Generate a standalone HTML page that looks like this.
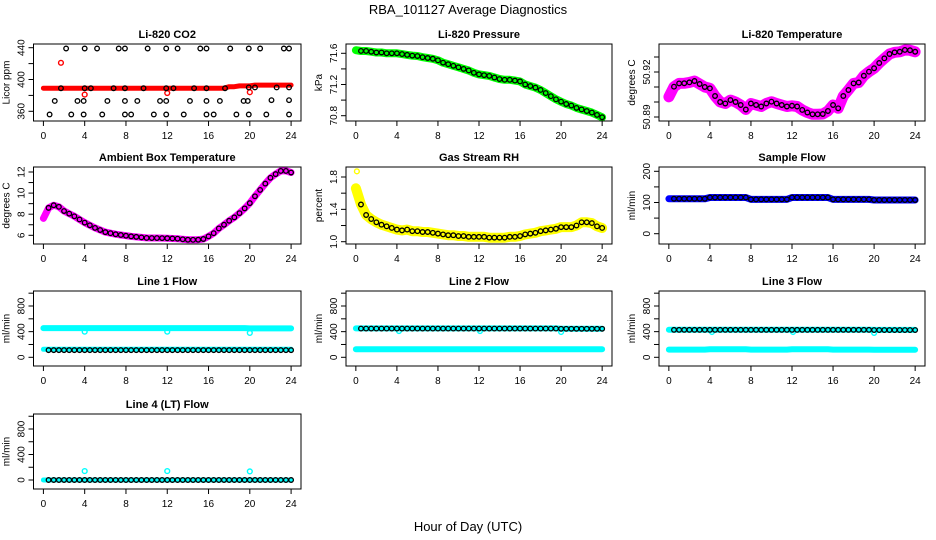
<!DOCTYPE html>
<html><head><meta charset="utf-8">
<style>
html,body{margin:0;padding:0;background:#fff;}
svg{display:block;font-family:"Liberation Sans",Arial,sans-serif;}
</style></head>
<body>
<svg id="fig" width="936" height="540" viewBox="0 0 936 540" xmlns="http://www.w3.org/2000/svg">
<rect x="0" y="0" width="936" height="540" fill="#fff"/>
<text x="468" y="14" text-anchor="middle" font-size="13">RBA_101127  Average Diagnostics</text>
<text x="468" y="531" text-anchor="middle" font-size="13">Hour of Day (UTC)</text>
</svg>
<script>
const hours=[0,0.5,1,1.5,2,2.5,3,3.5,4,4.5,5,5.5,6,6.5,7,7.5,8,8.5,9,9.5,10,10.5,11,11.5,12,12.5,13,13.5,14,14.5,15,15.5,16,16.5,17,17.5,18,18.5,19,19.5,20,20.5,21,21.5,22,22.5,23,23.5,24];
const xTicks=[0,4,8,12,16,20,24];

const co2Red=[389,389,389,389,389,389,389,389,389,389,389,389,389,389,389,389,389,389,389,389,389,389,389,389,389,389,389,389,389,389,389,389,389,389,389,389,391,391,392,392,392,393,393,393,393,393,393,393,393];
const co2RedOutX=[1.7,4,12,20];
const co2RedOutY=[421,381,383,384];
const co2BlackX=[2.2,4,5.2,7.3,7.9,10.1,11.9,13,15.2,15.8,18.1,19.9,21,23.3,23.8, 1.7,4,4.6,6.8,7.9,9.7,11.9,12.6,14.6,15.8,17.6,19.9,20.5,22.6,23.8, 1.1,3.3,3.9,6.2,7.9,9.1,11.3,11.9,14.2,15.8,17.1,19.4,19.8,22.1,23.8, 0.6,2.7,3.9,5.7,7.9,8.5,10.7,11.9,13.6,15.8,16.5,18.7,19.9,21.6,23.8];
const co2BlackY=[439,439,439,439,439,439,439,439,439,439,439,439,439,439,439, 389,389,389,389,389,389,389,389,389,389,389,390,390,390,390, 373,373,373,373,373,373,373,373,373,373,373,373,373,374,374, 356,356,356,356,356,356,356,356,356,356,356,356,356,356,356];
const co2Ticks=[360,380,400,420,440];
const co2Labels=[360,400,440];

const pressure=[71.64,71.63,71.63,71.62,71.61,71.61,71.60,71.60,71.60,71.59,71.58,71.57,71.565,71.55,71.54,71.53,71.51,71.48,71.46,71.44,71.42,71.40,71.38,71.35,71.33,71.32,71.31,71.29,71.27,71.26,71.26,71.25,71.24,71.20,71.18,71.16,71.13,71.09,71.05,71.01,70.98,70.95,70.93,70.90,70.88,70.86,70.84,70.81,70.78];
const presTicks=[70.8,71.0,71.2,71.4,71.6];
const presLabels=[70.8,71.2,71.6];

const licorTemp=[50.9035,50.9102,50.9124,50.9125,50.9131,50.9140,50.9120,50.9100,50.9091,50.9040,50.9000,50.8990,50.9013,50.9000,50.8980,50.8950,50.8990,50.8980,50.8970,50.8990,50.9002,50.8990,50.8980,50.8970,50.8975,50.8970,50.8947,50.8930,50.8918,50.8918,50.8920,50.8940,50.8980,50.8958,50.9040,50.9080,50.9124,50.9130,50.9175,50.9202,50.9225,50.9260,50.9291,50.9320,50.9331,50.9335,50.9347,50.9345,50.9335];
const tempTicks=[50.89,50.90,50.91,50.92,50.93];
const tempLabels=["50.89","50.92"];

const ambient=[7.6,8.6,8.85,8.7,8.3,8.05,7.8,7.5,7.2,6.95,6.7,6.5,6.3,6.2,6.1,6.03,5.96,5.9,5.85,5.8,5.75,5.74,5.74,5.73,5.72,5.7,5.68,5.62,5.58,5.57,5.58,5.65,5.9,6.2,6.65,7.0,7.38,7.7,8.1,8.55,9.05,9.7,10.3,10.9,11.45,11.8,12.1,12.1,11.95];
const ambTicks=[6,7,8,9,10,11,12];
const ambLabels=[6,8,10,12];

const rh=[1.66,1.46,1.33,1.28,1.24,1.21,1.19,1.17,1.15,1.14,1.15,1.13,1.13,1.12,1.12,1.11,1.10,1.09,1.08,1.08,1.07,1.07,1.06,1.06,1.06,1.06,1.05,1.05,1.05,1.05,1.06,1.06,1.07,1.09,1.10,1.11,1.13,1.14,1.15,1.16,1.18,1.18,1.18,1.20,1.24,1.24,1.23,1.19,1.17];
const rhOutX=[0.1];
const rhOutY=[1.87];
const rhTicks=[1.0,1.2,1.4,1.6,1.8];
const rhLabels=["1.0","1.4","1.8"];

const sampleFlow=[112,112,112,112,112,112,112,112,116,116,116,116,116,116,116,116,110,110,110,110,110,110,110,110,116,116,116,116,116,116,116,116,110,110,110,110,110,110,110,110,108,108,108,108,108,108,108,108,108];
const sfTicks=[0,50,100,150,200];
const sfLabels=[0,100,200];

const line1High=[455,455,455,455,455,455,455,455,455,455,455,455,455,455,455,455,455,455,455,455,455,455,455,455,455,455,455,455,455,455,455,455,455,455,455,455,455,455,455,455,450,450,450,450,450,450,450,450,450];
const line1Low=[125,125,125,125,125,125,125,125,125,125,125,125,125,125,125,125,125,125,125,125,125,125,125,125,125,125,125,125,125,125,125,125,125,125,125,125,125,125,125,125,125,125,125,125,125,125,125,125,125];
const line1Black=[112,112,112,112,112,112,112,112,112,112,112,112,112,112,112,112,112,112,112,112,112,112,112,112,112,112,112,112,112,112,112,112,112,112,112,112,112,112,112,112,112,112,112,112,112,112,112,112,112];
const line1DipX=[4,12,20];
const line1DipY=[400,400,380];

const line2High=[450,450,450,450,450,450,450,450,450,450,450,450,450,450,450,450,450,450,450,450,450,450,450,450,450,450,450,450,450,450,450,450,450,450,450,450,450,450,450,450,445,445,445,445,445,445,445,445,445];
const line2Low=[125,125,125,125,125,125,125,125,125,125,125,125,125,125,125,125,125,125,125,125,125,125,125,125,125,125,125,125,125,125,125,125,125,125,125,125,125,125,125,125,125,125,125,125,125,125,125,125,125];
const line2Black=[448,448,448,448,448,448,448,448,448,448,448,448,448,448,448,448,448,448,448,448,448,448,448,448,448,448,448,448,448,448,448,448,448,448,448,448,448,448,448,448,445,445,445,445,445,445,445,445,445];
const line2DipX=[4.2,12.1,20];
const line2DipY=[410,410,395];

const line3High=[430,430,430,430,430,430,430,430,430,430,430,430,430,430,430,430,430,430,430,430,430,430,430,430,430,430,430,430,430,430,430,430,430,430,430,430,430,430,430,430,428,428,428,428,428,428,428,428,428];
const line3Low=[120,120,120,120,120,120,120,120,125,125,125,125,125,125,125,125,120,120,120,120,120,120,120,120,125,125,125,125,125,125,125,125,120,120,120,120,120,120,120,120,118,118,118,118,118,118,118,118,118];
const line3Black=[428,428,428,428,428,428,428,428,428,428,428,428,428,428,428,428,428,428,428,428,428,428,428,428,428,428,428,428,428,428,428,428,428,428,428,428,428,428,428,428,425,425,425,425,425,425,425,425,425];
const line3DipX=[4.2,12.1,20];
const line3DipY=[395,395,380];

const line4Cyan=[0,0,0,0,0,0,0,0,0,0,0,0,0,0,0,0,0,0,0,0,0,0,0,0,0,0,0,0,0,0,0,0,0,0,0,0,0,0,0,0,0,0,0,0,0,0,0,0,0];
const line4Black=[0,0,0,0,0,0,0,0,0,0,0,0,0,0,0,0,0,0,0,0,0,0,0,0,0,0,0,0,0,0,0,0,0,0,0,0,0,0,0,0,0,0,0,0,0,0,0,0,0];
const line4OutX=[4,12,20];
const line4OutY=[140,140,135];
const flowTicks=[0,200,400,600,800,1000];
const flowLabels=[0,400,800];

const NS="http://www.w3.org/2000/svg";
const svg=document.getElementById('fig');
const colL=[33.5,346,659], colR=[301,612,925];
const rowT=[44,167,291,414], rowB=[121,244,366,489];

function mk(tag,attrs,parent){const e=document.createElementNS(NS,tag);for(const k in attrs)e.setAttribute(k,attrs[k]);(parent||svg).appendChild(e);return e;}

function panel(o){
  const L=colL[o.col],R=colR[o.row===undefined?0:o.col],T=rowT[o.row],B=rowB[o.row];
  const g=mk('g',{});
  
  
  const xs=h=>L+(h+0.96)/25.92*(R-L);
  const ys=v=>o.p0+(v-o.v0)*(o.p1-o.p0)/(o.v1-o.v0);
  // bands
  (o.bands||[]).forEach(b=>{
    const pts=b.ys.map((v,i)=>xs(hours[i]).toFixed(1)+','+ys(v).toFixed(1)).join(' ');
    const pl=mk('polyline',{points:pts,fill:'none',stroke:b.color,'stroke-width':b.w,'stroke-linejoin':'round','stroke-linecap':'round'},g);
    
    
  });
  (o.outliers||[]).forEach(s=>{
    s.x.forEach((h,i)=>{
      const c=mk('circle',{cx:xs(h),cy:ys(s.y[i]),r:2.4,fill:'none',stroke:s.color,'stroke-width':1.4},g);
      
      
    });
  });
  (o.black||[]).forEach(s=>{
    s.y.forEach((v,i)=>{
      const h=s.x?s.x[i]:hours[i];
      if(!s.x&&i===0)return;
      const c=mk('circle',{cx:xs(h),cy:ys(v),r:2.3,fill:'none',stroke:'#000','stroke-width':1.3},g);
      
      
    });
  });
  // box
  const box=mk('rect',{x:L,y:T,width:R-L,height:B-T,fill:'none',stroke:'#000','stroke-width':1},g);
  
  
  // title
  const t=mk('text',{x:(L+R)/2,y:T-6,'text-anchor':'middle','font-size':11,'font-weight':'bold'},g);
  t.textContent=o.title;
  
  
  // x axis
  mk('line',{x1:xs(0),x2:xs(24),y1:B,y2:B,stroke:'#000'},g);
  xTicks.forEach(h=>{
    mk('line',{x1:xs(h),x2:xs(h),y1:B,y2:B+5,stroke:'#000'},g);
    const tx=mk('text',{x:xs(h),y:B+18,'text-anchor':'middle','font-size':10},g);
    tx.textContent=h;
    
    
  });
  // y axis
  const yt=o.ticks;
  mk('line',{x1:L,x2:L,y1:ys(yt[0]),y2:ys(yt[yt.length-1]),stroke:'#000'},g);
  yt.forEach(v=>mk('line',{x1:L-5,x2:L,y1:ys(v),y2:ys(v),stroke:'#000'},g));
  o.labels.forEach(v=>{
    const y=ys(parseFloat(v));
    const tx=mk('text',{x:0,y:0,'text-anchor':'middle','font-size':10,transform:`translate(${L-9},${y}) rotate(-90)`},g);
    tx.textContent=v;
    
    
  });
  const yl=mk('text',{x:0,y:0,'text-anchor':'middle','font-size':10,transform:`translate(${L-24},${(T+B)/2}) rotate(-90)`},g);
  yl.textContent=o.ylab;
  
  
}

panel({name:'co2-panel',col:0,row:0,title:'Li-820 CO2',ylab:'Licor ppm',v0:440,p0:47.7,v1:360,p1:111.3,ticks:co2Ticks,labels:co2Labels,
  bands:[{name:'co2-band',ys:co2Red,color:'#ff0000',w:5}],
  outliers:[{name:'co2-red-outlier',x:co2RedOutX,y:co2RedOutY,color:'#ff0000'}],
  black:[{x:co2BlackX,y:co2BlackY}]});
panel({name:'pressure-panel',col:1,row:0,title:'Li-820 Pressure',ylab:'kPa',v0:71.6,p0:53.3,v1:70.8,p1:115.7,ticks:presTicks,labels:presLabels,
  bands:[{name:'pressure-band',ys:pressure,color:'#00ff00',w:8}],black:[{y:pressure}]});
panel({name:'licor-temp-panel',col:2,row:0,title:'Li-820 Temperature',ylab:'degrees C',v0:50.89,p0:117,v1:50.92,p1:72,ticks:tempTicks,labels:tempLabels,
  bands:[{name:'licor-temp-band',ys:licorTemp,color:'#ff00ff',w:11}],black:[{y:licorTemp}]});
panel({name:'ambient-panel',col:0,row:1,title:'Ambient Box Temperature',ylab:'degrees C',v0:12,p0:172,v1:6,p1:235.3,ticks:ambTicks,labels:ambLabels,
  bands:[{name:'ambient-band',ys:ambient,color:'#ff00ff',w:7}],black:[{y:ambient}]});
panel({name:'rh-panel',col:1,row:1,title:'Gas Stream RH',ylab:'percent',v0:1.8,p0:177,v1:1.0,p1:241.7,ticks:rhTicks,labels:rhLabels,
  bands:[{name:'rh-band',ys:rh,color:'#ffff00',w:10}],
  outliers:[{name:'rh-outlier',x:rhOutX,y:rhOutY,color:'#ffff00'}],black:[{y:rh}]});
panel({name:'sample-flow-panel',col:2,row:1,title:'Sample Flow',ylab:'ml/min',v0:200,p0:171.3,v1:0,p1:233.7,ticks:sfTicks,labels:sfLabels,
  bands:[{name:'sample-flow-band',ys:sampleFlow,color:'#0000ff',w:7}],black:[{y:sampleFlow}]});
panel({name:'line1-panel',col:0,row:2,title:'Line 1 Flow',ylab:'ml/min',v0:0,p0:357.3,v1:800,p1:306,ticks:flowTicks,labels:flowLabels,
  bands:[{name:'line1-high-band',ys:line1High,color:'#00ffff',w:6},{name:'line1-low-band',ys:line1Low,color:'#00ffff',w:5}],
  outliers:[{name:'line1-dip',x:line1DipX,y:line1DipY,color:'#00ffff'}],black:[{y:line1Black}]});
panel({name:'line2-panel',col:1,row:2,title:'Line 2 Flow',ylab:'ml/min',v0:0,p0:357.3,v1:800,p1:306,ticks:flowTicks,labels:flowLabels,
  bands:[{name:'line2-high-band',ys:line2High,color:'#00ffff',w:6},{name:'line2-low-band',ys:line2Low,color:'#00ffff',w:6}],
  outliers:[{name:'line2-dip',x:line2DipX,y:line2DipY,color:'#00ffff'}],black:[{y:line2Black}]});
panel({name:'line3-panel',col:2,row:2,title:'Line 3 Flow',ylab:'ml/min',v0:0,p0:357.3,v1:800,p1:306,ticks:flowTicks,labels:flowLabels,
  bands:[{name:'line3-high-band',ys:line3High,color:'#00ffff',w:6},{name:'line3-low-band',ys:line3Low,color:'#00ffff',w:6}],
  outliers:[{name:'line3-dip',x:line3DipX,y:line3DipY,color:'#00ffff'}],black:[{y:line3Black}]});
panel({name:'line4-panel',col:0,row:3,title:'Line 4 (LT) Flow',ylab:'ml/min',v0:0,p0:480,v1:800,p1:429,ticks:flowTicks,labels:flowLabels,
  bands:[{name:'line4-band',ys:line4Cyan,color:'#00ffff',w:5}],
  outliers:[{name:'line4-outlier',x:line4OutX,y:line4OutY,color:'#00ffff'}],black:[{y:line4Black}]});
</script>
</body></html>
